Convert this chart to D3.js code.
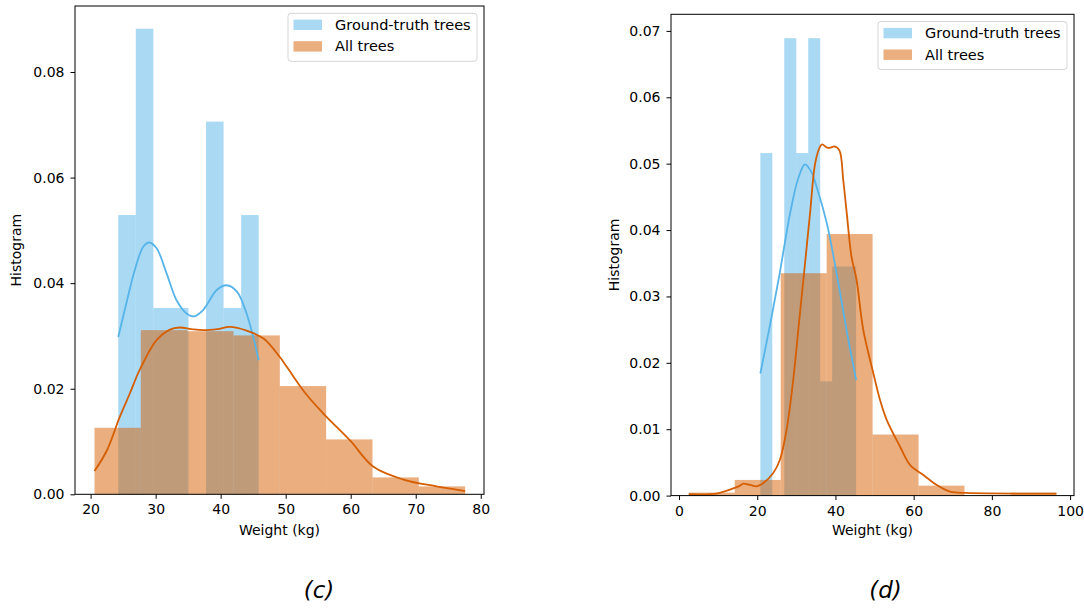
<!DOCTYPE html>
<html>
<head>
<meta charset="utf-8">
<script src="https://cdn.jsdelivr.net/npm/d3@7"></script>
<style>
  body { margin: 0; background: #fff; }
  svg { display: block; }
  text { font-family: "DejaVu Sans", sans-serif; }
</style>
</head>
<body>
<svg id="chart" width="1084" height="611"></svg>
<script>
// ---- data (density histograms + kde) ----
const seriesNames = ["Ground-truth trees", "All trees"];

// panel (c)
const cGtEdges = [24.25, 26.95, 29.65, 32.35, 35.05, 37.75, 40.45, 43.15, 45.85];
const cGtDensity = [0.0529, 0.0882, 0.0353, 0.0353, 0, 0.0706, 0.0353, 0.0529];
const cAllEdges = [20.6, 27.72, 34.85, 41.97, 49.1, 56.22, 63.35, 70.47, 77.6];
const cAllDensity = [0.0126, 0.0311, 0.0309, 0.0301, 0.0205, 0.0104, 0.0032, 0.0015];
const cGtKde = [[24.25,0.0298],[25.5,0.0362],[26.8,0.0425],[28.1,0.0469],[29.0,0.0477],[30.15,0.0466],
    [31.7,0.0418],[33.2,0.0368],[34.8,0.0342],[35.9,0.0337],[37.3,0.0349],[39.4,0.0387],[40.9,0.0396],
    [42.5,0.0384],[44.0,0.0342],[45.85,0.0254]];
const cAllKde = [[20.6,0.0044],[22.5,0.0083],[24.5,0.0147],[26.0,0.019],[27.6,0.0237],[30.15,0.0292],
    [32.2,0.0312],[33.7,0.0316],[35.5,0.0313],[37.3,0.0311],[39.5,0.0313],[41.4,0.0317],[44.0,0.031],
    [46.6,0.0295],[49.1,0.026],[50.2,0.0241],[53.0,0.0192],[55.8,0.0153],[59.9,0.0102],[63.5,0.0052],
    [68.1,0.0028],[73.2,0.0015],[77.6,0.0006]];
const cXTicks = [20, 30, 40, 50, 60, 70, 80];
const cYTicks = [0, 0.02, 0.04, 0.06, 0.08];

// panel (d)
const dGtEdges = [20.8, 23.86, 26.92, 29.98, 33.04, 36.1, 39.16, 42.22, 45.28];
const dGtDensity = [0.0516, 0, 0.0689, 0.0516, 0.0689, 0.0172, 0.0345, 0.0345];
const dAllEdges = [2.5, 14.25, 26, 37.75, 49.5, 61.25, 73, 84.75, 96.5];
const dAllDensity = [0.00045, 0.00236, 0.0335, 0.0394, 0.0092, 0.0015, 0, 0.00045];
const dGtKde = [[20.8,0.0184],[23.2,0.0255],[25.6,0.033],[28.4,0.0425],[30.5,0.0478],[32.2,0.0499],
    [33.8,0.0488],[35.2,0.0465],[37.8,0.041],[40.5,0.0328],[43.0,0.0244],[45.28,0.0174]];
const dAllKde = [[2.5,0.0002],[9.6,0.0003],[12.5,0.0008],[15.6,0.0015],[16.4,0.0018],[18.2,0.0016],
    [19.9,0.0014],[21.6,0.0019],[24.1,0.0034],[25.8,0.0054],[27.5,0.0099],[29.2,0.0174],[30.5,0.025],
    [31.8,0.0325],[33.5,0.0425],[34.8,0.05],[36.0,0.0525],[36.6,0.0529],[37.9,0.0524],[38.7,0.0524],
    [39.7,0.0526],[41.0,0.052],[42.0,0.0475],[42.9,0.0425],[44.1,0.036],[45.4,0.0325],[47.1,0.025],
    [49.7,0.0184],[51.4,0.0144],[53.1,0.0114],[56.5,0.0074],[59.1,0.0046],[62.5,0.0031],[65.9,0.0016],
    [69.3,0.0006],[73.6,0.0004],[96.5,0.0003]];
const dXTicks = [0, 20, 40, 60, 80, 100];
const dYTicks = [0, 0.01, 0.02, 0.03, 0.04, 0.05, 0.06, 0.07];

const colors = ["#56B4E9", "#D55E00"];

const svg = d3.select("#chart");

function drawPanel(cfg) {
    const g = svg.append("g");

    const x = d3.scaleLinear().domain(cfg.xDomain).range([cfg.left, cfg.right]);
    const y = d3.scaleLinear().domain(cfg.yDomain).range([cfg.bottom, cfg.top]);

    // histograms: bars first (patches sit under lines, like matplotlib zorder)
    cfg.hists.forEach((h, i) => {
        const bins = h.density.map((v, j) => ({x0: h.edges[j], x1: h.edges[j + 1], v: v}));
        g.append("g")
            .selectAll("rect")
            .data(bins.filter(b => b.v > 0))
            .join("rect")
            .attr("x", d => x(d.x0))
            .attr("width", d => x(d.x1) - x(d.x0))
            .attr("y", d => y(d.v))
            .attr("height", d => y(0) - y(d.v))
            .attr("fill", colors[i])
            .attr("fill-opacity", 0.5);
    });

    const line = d3.line()
        .x(d => x(d[0]))
        .y(d => y(d[1]))
        .curve(d3.curveCatmullRom.alpha(0.5));

    cfg.kdes.forEach((k, i) => {
        g.append("path")
            .datum(k)
            .attr("d", line)
            .attr("fill", "none")
            .attr("stroke", colors[i])
            .attr("stroke-width", 1.8);
    });

    // axes
    const xAxis = g.append("g")
        .attr("transform", `translate(0,${cfg.bottom})`)
        .call(d3.axisBottom(x).tickValues(cfg.xTicks).tickFormat(d3.format("d")).tickSize(4.5).tickPadding(5.5));
    const yAxis = g.append("g")
        .attr("transform", `translate(${cfg.left},0)`)
        .call(d3.axisLeft(y).tickValues(cfg.yTicks).tickFormat(d3.format(".2f")).tickSize(4.5).tickPadding(6));
    [xAxis, yAxis].forEach(a => {
        a.select(".domain").remove();
        a.selectAll("text").attr("font-size", 14).attr("font-family", "DejaVu Sans").attr("fill", "#000");
        a.selectAll("line").attr("stroke", "#000").attr("stroke-width", 1);
    });

    g.append("rect")
        .attr("x", cfg.left).attr("y", cfg.top)
        .attr("width", cfg.right - cfg.left).attr("height", cfg.bottom - cfg.top)
        .attr("fill", "none").attr("stroke", "#000").attr("stroke-width", 1);

    g.append("text")
        .attr("x", (cfg.left + cfg.right) / 2)
        .attr("y", 535)
        .attr("text-anchor", "middle")
        .attr("font-size", 14)
        .text("Weight (kg)");

    g.append("text")
        .attr("transform", `translate(${cfg.ylabX},${(cfg.top + cfg.bottom) / 2}) rotate(-90)`)
        .attr("text-anchor", "middle")
        .attr("font-size", 14)
        .text("Histogram");

    // legend (upper right)
    const lw = 189, lh = 48;
    const leg = g.append("g")
        .attr("transform", `translate(${cfg.right - 7 - lw},${cfg.top + 7.3})`);
    leg.append("rect")
        .attr("width", lw).attr("height", lh).attr("rx", 3)
        .attr("fill", "#fff").attr("fill-opacity", 0.8)
        .attr("stroke", "#d5d5d5").attr("stroke-width", 1);
    seriesNames.forEach((name, i) => {
        const cy = 11.5 + i * 21.6;
        leg.append("rect")
            .attr("x", 5.5).attr("y", cy - 5.2)
            .attr("width", 28.5).attr("height", 10.4)
            .attr("fill", colors[i]).attr("fill-opacity", 0.5);
        leg.append("text")
            .attr("x", 47).attr("y", cy + 5)
            .attr("font-size", 14.5)
            .text(name);
    });

    svg.append("text")
        .attr("x", cfg.captionX).attr("y", 598)
        .attr("text-anchor", "middle")
        .attr("font-family", "Liberation Sans, Arial, sans-serif")
        .attr("font-style", "italic")
        .attr("font-size", 23)
        .text(cfg.caption);
}

drawPanel({
    left: 75, right: 484, top: 6, bottom: 494.3,
    xDomain: [17.6, 80.5], yDomain: [0, 0.0925],
    xTicks: cXTicks, yTicks: cYTicks,
    hists: [{edges: cGtEdges, density: cGtDensity}, {edges: cAllEdges, density: cAllDensity}],
    kdes: [cGtKde, cAllKde],
    ylabX: 21, caption: "(c)", captionX: 319
});

drawPanel({
    left: 671, right: 1074, top: 14.3, bottom: 495.6,
    xDomain: [-2.05, 101.0], yDomain: [0, 0.0725],
    xTicks: dXTicks, yTicks: dYTicks,
    hists: [{edges: dGtEdges, density: dGtDensity}, {edges: dAllEdges, density: dAllDensity}],
    kdes: [dGtKde, dAllKde],
    ylabX: 618.5, caption: "(d)", captionX: 885.5
});
</script>
</body>
</html>
